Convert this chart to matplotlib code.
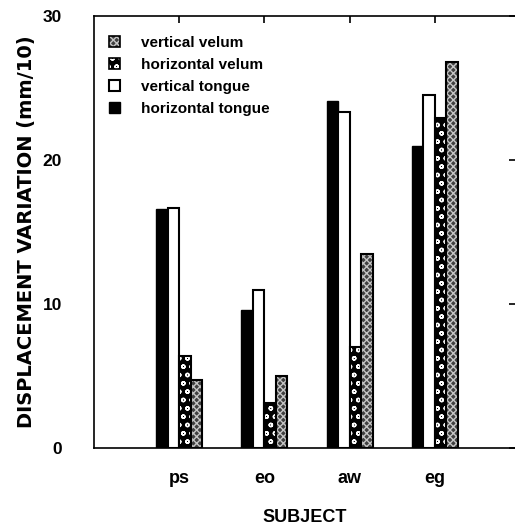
import numpy as np
import matplotlib
matplotlib.use("Agg")
import matplotlib.pyplot as plt
from matplotlib.patches import Patch

plt.rcParams['font.family'] = ['Liberation Sans', 'DejaVu Sans']
plt.rcParams['font.weight'] = 'bold'
plt.rcParams['hatch.linewidth'] = 1.0

subjects = ['ps', 'eo', 'aw', 'eg']
horizontal_tongue = [16.6, 9.6, 24.1, 21.0]
vertical_tongue = [16.7, 11.0, 23.3, 24.5]
horizontal_velum = [6.4, 3.1, 7.0, 22.9]
vertical_velum = [4.7, 5.0, 13.5, 26.8]

x = np.arange(1, len(subjects) + 1)
w = 0.135

velum_v_style = dict(facecolor='#404040', edgecolor='#c4c4c4', hatch='xxxxx', linewidth=0)
velum_h_style = dict(facecolor='black', edgecolor='white', hatch='oo', linewidth=0)

fig = plt.figure(figsize=(5.15, 5.27), dpi=100)
ax = fig.add_axes([0.1825, 0.15, 0.8175, 0.8196])

# horizontal tongue: solid black
ax.bar(x - 1.5 * w, horizontal_tongue, w, color='black', edgecolor='black', linewidth=1)
# vertical tongue: white
ax.bar(x - 0.5 * w, vertical_tongue, w, color='white', edgecolor='black', linewidth=1.5)
# horizontal velum: black with white circles
ax.bar(x + 0.5 * w, horizontal_velum, w, **velum_h_style)
ax.bar(x + 0.5 * w, horizontal_velum, w, fill=False, edgecolor='black', linewidth=1.5)
# vertical velum: grey stipple
ax.bar(x + 1.5 * w, vertical_velum, w, **velum_v_style)
ax.bar(x + 1.5 * w, vertical_velum, w, fill=False, edgecolor='black', linewidth=1.5)

ax.set_xlim(0, 4.94)
ax.set_ylim(0, 30)
ax.set_yticks([0, 10, 20, 30])
ax.set_xticks(x)
ax.set_xticklabels(subjects)
ax.tick_params(axis='y', left=False, right=True, direction='in', length=4, width=1.2,
               labelsize=12.5, pad=23)
ax.tick_params(axis='x', bottom=False, top=True, direction='in', length=5, width=1.2,
               labelsize=13, pad=16)
ax.spines['right'].set_visible(False)
for s in ['left', 'top', 'bottom']:
    ax.spines[s].set_linewidth(1.2)

ax.set_ylabel('DISPLACEMENT VARIATION (mm/10)', fontsize=14, fontweight='bold',
              family='DejaVu Sans', labelpad=5)
ax.set_xlabel('SUBJECT', fontsize=13, fontweight='bold', labelpad=16)

outline = Patch(fill=False, edgecolor='black', linewidth=1.2)
handles = [
    (Patch(**velum_v_style), outline),
    (Patch(**velum_h_style), outline),
    Patch(facecolor='white', edgecolor='black', linewidth=1.5),
    Patch(facecolor='black', edgecolor='black'),
]
labels = ['vertical velum', 'horizontal velum', 'vertical tongue', 'horizontal tongue']
ax.legend(handles, labels, loc='upper left', bbox_to_anchor=(0.02, 0.968), frameon=False,
          fontsize=11, handlelength=0.75, handleheight=0.75, handletextpad=1.4,
          labelspacing=0.52, borderaxespad=0)

fig.savefig('out.png', dpi=100)
